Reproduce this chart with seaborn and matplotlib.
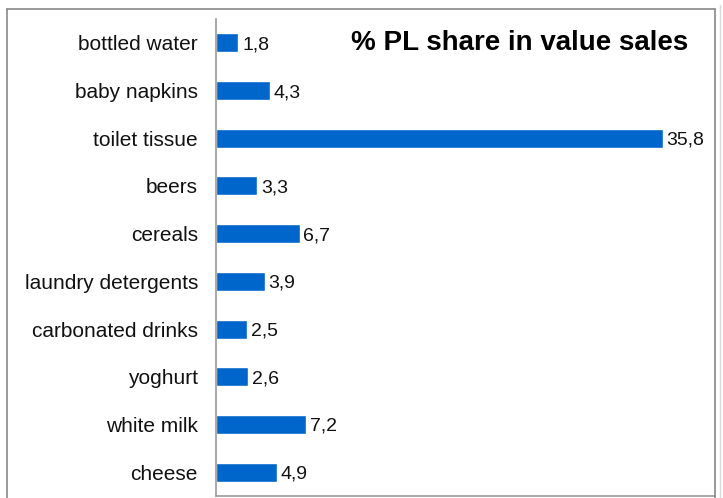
import matplotlib
matplotlib.use("Agg")
import matplotlib.pyplot as plt
import seaborn as sns
import pandas as pd
import numpy as np
from matplotlib.lines import Line2D

categories = ["bottled water", "baby napkins", "toilet tissue", "beers", "cereals",
              "laundry detergents", "carbonated drinks", "yoghurt", "white milk", "cheese"]
shares = [1.8, 4.3, 35.8, 3.3, 6.7, 3.9, 2.5, 2.6, 7.2, 4.9]
title = "% PL share in value sales"

df = pd.DataFrame({"category": categories, "share": shares})

sns.set_style("white")
plt.rcParams["font.family"] = ["Liberation Sans", "DejaVu Sans"]

W, H = 723, 498
fig = plt.figure(figsize=(W / 100, H / 100), dpi=100)
ax = fig.add_axes([216 / W, 2 / H, (715 - 216) / W, (496 - 19) / H])

sns.barplot(data=df, x="share", y="category", orient="h", color="#0066CC",
            saturation=1, width=0.4, ax=ax)

ax.set_xlim(0, 40)
ax.set_ylim(len(categories) - 0.5, -0.5)
ax.set_xlabel("")
ax.set_ylabel("")
ax.set_xticks([])

# labels centred on bars, ticks at the category boundaries
ax.tick_params(axis="y", which="major", length=0, pad=13, labelsize=15, labelcolor="#111111")
ax.set_yticks(np.arange(-0.5, len(categories), 1), minor=True)
ax.tick_params(axis="y", which="minor", length=5, width=1, color="#999999", direction="out")

for side in ["top", "right"]:
    ax.spines[side].set_visible(False)
ax.spines["left"].set_color("#999999")
ax.spines["bottom"].set_color("#999999")
ax.spines["left"].set_linewidth(1.2)
ax.spines["bottom"].set_linewidth(1.2)

for i, v in enumerate(shares):
    ax.text(v + 0.3, i, f"{v:.1f}".replace(".", ","), va="center_baseline", ha="left",
            fontsize=14, color="#111111")

fig.text(688 / W, 1 - 43 / H, title, ha="right", va="center", fontsize=20,
         fontweight="bold", color="#000000")

# outer chart-area frame
fig.add_artist(Line2D([7 / W, 7 / W], [0, 1 - 9 / H], transform=fig.transFigure,
                      color="#888888", lw=1.2))
fig.add_artist(Line2D([7 / W, 715 / W], [1 - 9 / H, 1 - 9 / H], transform=fig.transFigure,
                      color="#888888", lw=1.2))
fig.add_artist(Line2D([715 / W, 715 / W], [0, 1 - 9 / H], transform=fig.transFigure,
                      color="#888888", lw=1.2))
fig.add_artist(Line2D([720 / W, 720 / W], [0, 1 - 5 / H], transform=fig.transFigure,
                      color="#d8d8d8", lw=1.0))

fig.savefig("out.png", dpi=100)
